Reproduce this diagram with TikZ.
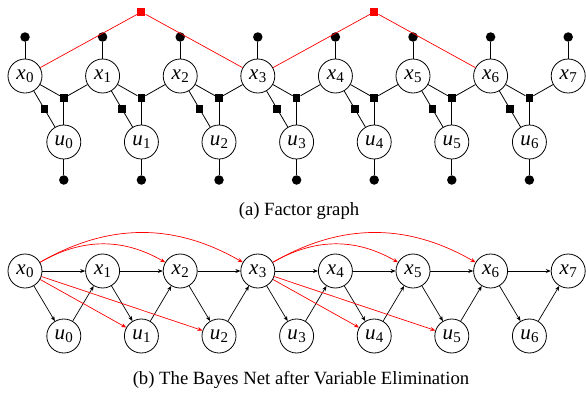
\documentclass[tikz,border=0pt]{standalone}
\usepackage{fontspec}
\setmainfont{Liberation Serif}
\usetikzlibrary{arrows.meta}
\newcommand{\lbl}[2]{\textit{#1}\kern0.3pt\raisebox{-0.35ex}{\fontsize{15}{15}\selectfont #2}}
\begin{document}
\begin{tikzpicture}[x=1pt,y=-1pt,
  var/.style={circle,draw,line width=0.8pt,minimum size=34pt,inner sep=0pt,font=\fontsize{21}{21}\selectfont},
  dot/.style={circle,fill,inner sep=0pt,minimum size=9.5pt},
  fac/.style={rectangle,fill,inner sep=0pt,minimum size=7.5pt},
  rfac/.style={rectangle,fill=red,inner sep=0pt,minimum size=8pt},
  edge/.style={line width=0.8pt},
  redge/.style={draw=red,line width=0.7pt},
  arr/.style={line width=0.7pt,-{Stealth[length=5pt,width=4pt]}},
  rarr/.style={arr,red},
  captext/.style={font=\fontsize{18.7}{20}\selectfont}]
\useasboundingbox (0,0) rectangle (586,394);
% ---------- factor graph ----------
\node[rfac] (r1) at (141.4,12) {};
\node[rfac] (r2) at (374.2,12) {};
\foreach \i in {0,...,7} {
  \node[var] (fx\i) at ({25+77.6*\i},76) {\lbl{x}{\i}};
  \node[dot] (fp\i) at ({25+77.6*\i},37) {};
  \draw[edge] (fp\i) -- (fx\i);
}
\draw[redge] (fx0) -- (r1) -- (fx3);
\draw[redge] (fx3) -- (r2) -- (fx6);
\foreach \i [count=\j] in {0,...,6} {
  \node[var] (fu\i) at ({63.8+77.6*\i},142) {\lbl{u}{\i}};
  \node[dot] (fd\i) at ({63.8+77.6*\i},180) {};
  \node[fac] (ft\i) at ({63.8+77.6*\i},98) {};
  \node[fac] (fb\i) at ({44.4+77.6*\i},109) {};
  \draw[edge] (fx\i) -- (ft\i) -- (fx\j);
  \draw[edge] (ft\i) -- (fu\i);
  \draw[edge] (fx\i) -- (fb\i) -- (fu\i);
  \draw[edge] (fu\i) -- (fd\i);
}
\node[captext] (ca) at (299,211) {(a) Factor graph};
% ---------- Bayes net ----------
\foreach \i in {0,...,7} {
  \node[var] (bx\i) at ({25+77.6*\i},271) {\lbl{x}{\i}};
}
\foreach \i [count=\j] in {0,...,6} {
  \node[var] (bu\i) at ({63.8+77.6*\i},336) {\lbl{u}{\i}};
  \draw[arr] (bx\i) -- (bx\j);
  \draw[arr] (bx\i) -- (bu\i);
  \draw[arr] (bu\i) -- (bx\j);
}
\draw[rarr] (bx0) to[bend left=30] (bx2);
\draw[rarr] (bx0) to[bend left=30] (bx3);
\draw[rarr] (bx0) -- (bu1);
\draw[rarr] (bx0) -- (bu2);
\draw[rarr] (bx3) to[bend left=30] (bx5);
\draw[rarr] (bx3) to[bend left=30] (bx6);
\draw[rarr] (bx3) -- (bu4);
\draw[rarr] (bx3) -- (bu5);
\node[captext] (cb) at (301,380) {(b) The Bayes Net after Variable Elimination};
\end{tikzpicture}
\end{document}
